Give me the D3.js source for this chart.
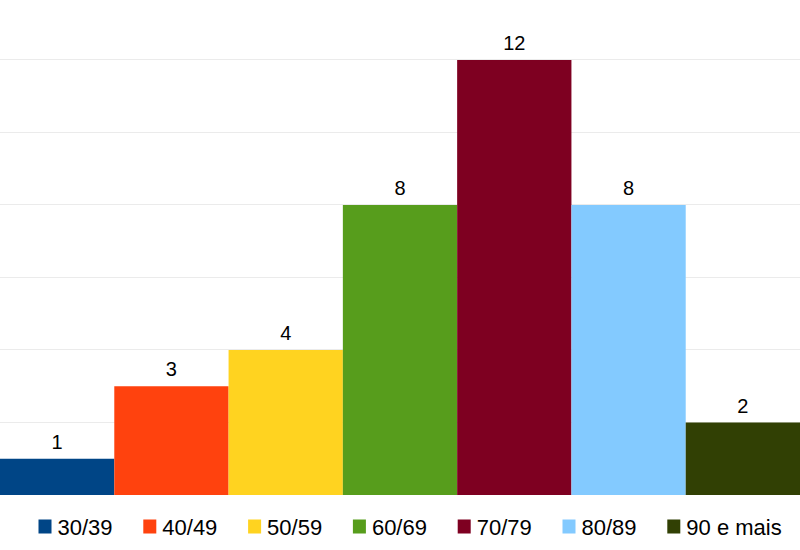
<!DOCTYPE html>
<html>
<head>
<meta charset="utf-8">
<script src="https://cdn.jsdelivr.net/npm/d3@7"></script>
<style>
  body { margin: 0; background: #fff; }
  text { font-family: "Liberation Sans", Arial, sans-serif; fill: #000; }
</style>
</head>
<body>
<svg id="chart" width="800" height="550"></svg>
<script>
var categories = ["30/39", "40/49", "50/59", "60/69", "70/79", "80/89", "90 e mais"];
var values = [1, 3, 4, 8, 12, 8, 2];
var colors = ["#004586", "#ff420e", "#ffd320", "#579d1c", "#7e0021", "#83caff", "#314004"];
var gridTicks = [0, 2, 4, 6, 8, 10, 12];

var svg = d3.select("#chart");

var x = d3.scaleBand()
    .domain(categories)
    .range([0, 800])
    .padding(0);

var y = d3.scaleLinear()
    .domain([0, 12])
    .range([495, 60]);

// gridlines
svg.append("g")
    .selectAll("line")
    .data(gridTicks)
    .enter().append("line")
    .attr("x1", 0)
    .attr("x2", 800)
    .attr("y1", function(d){ return Math.round(y(d)) - 0.5; })
    .attr("y2", function(d){ return Math.round(y(d)) - 0.5; })
    .attr("stroke", "#ebebeb")
    .attr("stroke-width", 1);

// bars
svg.append("g")
    .selectAll("rect")
    .data(categories)
    .enter().append("rect")
    .attr("x", function(d){ return x(d); })
    .attr("width", x.bandwidth())
    .attr("y", function(d, i){ return y(values[i]); })
    .attr("height", function(d, i){ return y(0) - y(values[i]); })
    .attr("fill", function(d, i){ return colors[i]; });

// value labels
svg.append("g")
    .selectAll("text")
    .data(categories)
    .enter().append("text")
    .attr("x", function(d){ return x(d) + x.bandwidth() / 2; })
    .attr("y", function(d, i){ return y(values[i]) - 10; })
    .attr("text-anchor", "middle")
    .style("font-size", "20px")
    .text(function(d, i){ return values[i]; });

// legend
var legend = svg.append("g")
    .selectAll("g")
    .data(categories)
    .enter().append("g")
    .attr("transform", function(d, i){ return "translate(" + (38.5 + i * 104.8) + ",0)"; });

legend.append("rect")
    .attr("x", 0)
    .attr("y", 519.5)
    .attr("width", 13)
    .attr("height", 14)
    .attr("fill", function(d, i){ return colors[i]; });

legend.append("text")
    .attr("x", 19)
    .attr("y", 535)
    .style("font-size", "22px")
    .text(function(d){ return d; });
</script>
</body>
</html>
